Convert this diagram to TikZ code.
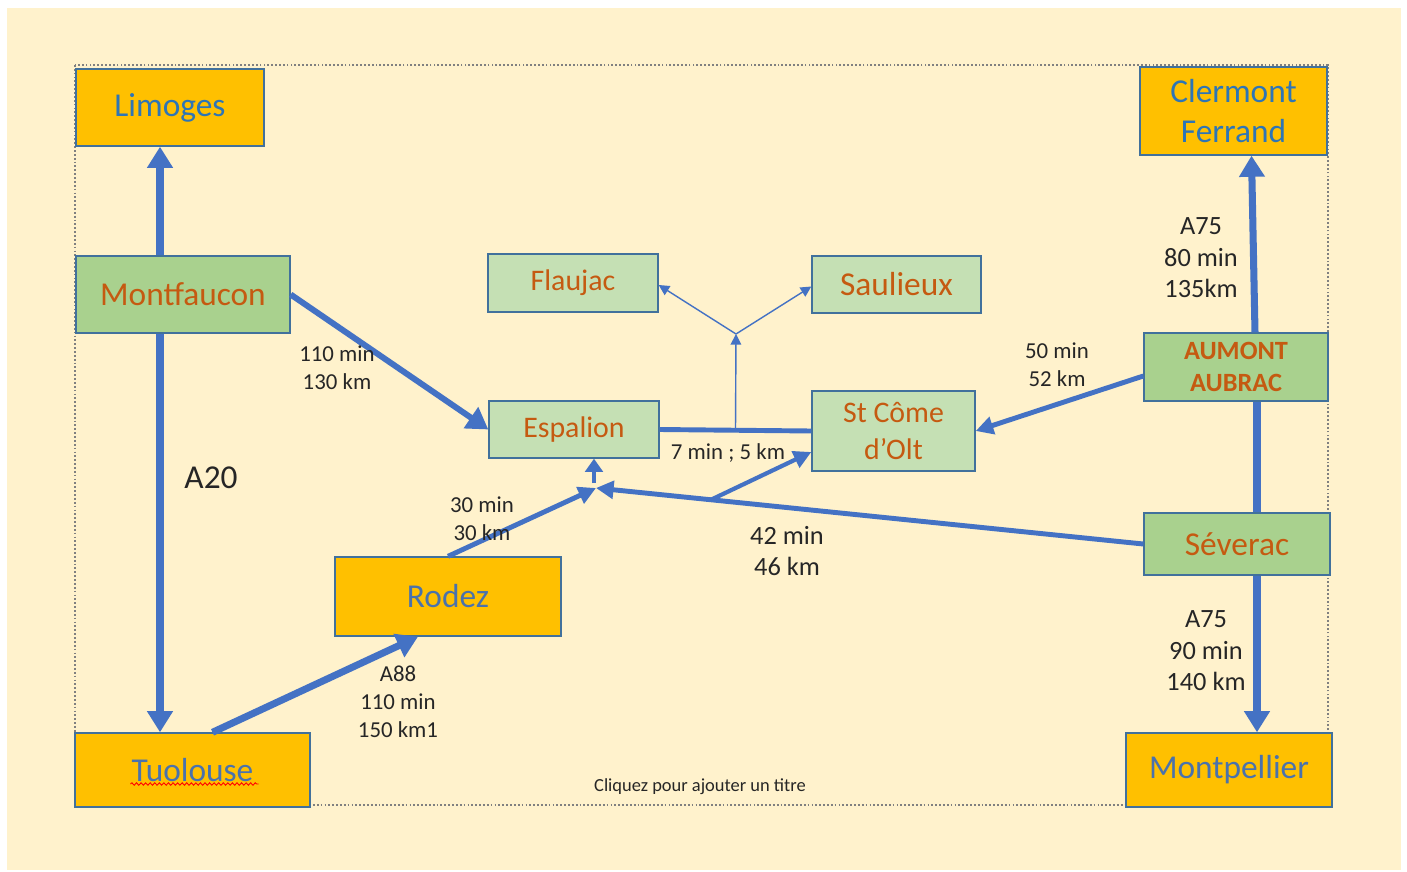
\documentclass[tikz,border=0pt]{standalone}
\usepackage{fontspec}
\setmainfont{Carlito}
\usepackage{tikz}
\usetikzlibrary{arrows.meta,calc,decorations.pathmorphing}
\definecolor{creme}{HTML}{FFF2CC}
\definecolor{jaune}{HTML}{FFC000}
\definecolor{vertf}{HTML}{A9D18E}
\definecolor{vertc}{HTML}{C5E0B4}
\definecolor{bleu}{HTML}{4472C4}
\definecolor{bord}{HTML}{41719C}
\definecolor{brique}{HTML}{C55A11}
\definecolor{encre}{HTML}{2E75B6}
\definecolor{ardoise}{HTML}{4A72AC}
\definecolor{gris}{HTML}{262626}
\newcommand{\grand}{\fontsize{19}{23}\selectfont}
\newcommand{\moyen}{\fontsize{17}{21}\selectfont}
\newcommand{\route}{\fontsize{15}{18}\selectfont}
\newcommand{\petit}{\fontsize{13}{16}\selectfont}

\begin{document}
\begin{tikzpicture}[
    x=0.02cm,y=-0.02cm,
    ville/.style={draw=bord,fill=jaune,line width=0.8pt,inner sep=0pt,align=center,font=\grand},
    bourg/.style={draw=bord,fill=vertc,line width=0.8pt,inner sep=0pt,align=center,text=brique,font=\moyen},
    etape/.style={bourg,fill=vertf},
    legende/.style={align=center,text=gris,inner sep=0pt},
    autoroute/.style={bleu,line width=4pt,-{Triangle[length=12pt,width=14pt]}},
    nationale/.style={bleu,line width=2.8pt,-{Triangle[length=10pt,width=10pt]}},
    chemin/.style={bleu,line width=0.8pt,-{Triangle[length=6pt,width=6pt]}}]

  \useasboundingbox (0,0) rectangle (1407,872);
  \fill[white] (0,0) rectangle (1407,872);
  \fill[creme] (7,8) rectangle (1401,870);
  \draw[gray,line width=0.6pt,dash pattern=on 1pt off 1.2pt] (75,65) rectangle (1328,805);

  \coordinate (LIM) at (170,107.5);
  \coordinate (CF) at (1233.5,111);
  \coordinate (MONT) at (183,294.5);
  \coordinate (FLA) at (573,283);
  \coordinate (SAU) at (896.5,284.5);
  \coordinate (ESP) at (574,429.5);
  \coordinate (STC) at (893.5,431);
  \coordinate (AUM) at (1236,367);
  \coordinate (SEV) at (1237,544);
  \coordinate (ROD) at (448,596.5);
  \coordinate (TUO) at (192.5,770);
  \coordinate (MTP) at (1229,770);
  \coordinate (JCT) at (596,488);
  \coordinate (FORK) at (736,334);

  % villes
  \node[
    ville,
    minimum width=3.76cm,
    minimum height=1.54cm,
    text=encre] at (LIM) (lim) {Limoges};
  \node[
    ville,
    minimum width=3.74cm,
    minimum height=1.76cm,
    text=encre] at (CF) (cf) {Clermont\\Ferrand};
  \node[
    ville,
    minimum width=4.52cm,
    minimum height=1.58cm,
    text=ardoise] at (ROD) (rod) {Rodez};
  \node[
    ville,
    minimum width=4.70cm,
    minimum height=1.48cm,
    text=ardoise] at (TUO) (tuo) {Tuolouse};
  \node[
    ville,
    minimum width=4.12cm,
    minimum height=1.48cm,
    text=ardoise] at (MTP) (mtp) {Montpellier};

  % bourgs
  \node[
    etape,
    font=\grand,
    minimum width=4.28cm,
    minimum height=1.54cm] at (MONT) (mont) {Montfaucon};
  \node[
    etape,
    font=\route\bfseries,
    minimum width=3.68cm,
    minimum height=1.36cm] at (AUM) (aum) {AUMONT\\AUBRAC};
  \node[
    etape,
    font=\grand,
    minimum width=3.72cm,
    minimum height=1.24cm] at (SEV) (sev) {Séverac};
  \node[
    bourg,
    minimum width=3.40cm,
    minimum height=1.16cm] at (FLA) (fla) {Flaujac};
  \node[
    bourg,
    font=\grand,
    minimum width=3.38cm,
    minimum height=1.14cm] at (SAU) (sau) {Saulieux};
  \node[
    bourg,
    minimum width=3.40cm,
    minimum height=1.14cm] at (ESP) (esp) {Espalion};
  \node[
    bourg,
    minimum width=3.26cm,
    minimum height=1.60cm] at (STC) (stc) {St Côme\\d’Olt};

  \draw[red,line width=0.5pt,decorate,decoration={snake,amplitude=0.7pt,segment length=2.6pt}]
    ($(tuo.center)+(-62,14)$) -- ($(tuo.center)+(66,14)$);

  % routes
  \draw[autoroute] ($(mont.north)+(-23,0)$) -- ($(lim.south)+(-10,0)$);
  \draw[autoroute] ($(mont.south)+(-23,0)$) -- ($(tuo.north)+(-32.5,0)$);
  \draw[autoroute,line width=3.4pt] (mont.east) -- (esp.west);
  \draw[autoroute] ($(tuo.north)+(20,0)$) -- ($(rod.south)+(-30,0)$);
  \draw[nationale] (rod.north) -- (JCT);
  \draw[bleu,line width=2.6pt,-{Triangle[length=7.5pt,width=10pt]}] ($(JCT)+(-2,-5)$) -- ($(esp.south)+(20,0)$);
  \draw[nationale] (sev.west) -- (JCT);
  \coordinate (BRK) at ($(JCT)!0.21!(sev.west)$);
  \draw[nationale,line width=2.4pt] (BRK) -- ($(stc.west)+(0,21)$);
  \draw[bleu,line width=2.8pt] (esp.east) -- (stc.west);
  \coordinate (MID) at ($(esp.east)!0.5!(stc.west)$);
  \draw[chemin] (MID) -- (FORK);
  \draw[chemin] (FORK) -- ($(fla.east)+(0,2)$);
  \draw[chemin] (FORK) -- ($(sau.west)+(0,2)$);
  \draw[nationale] ($(aum.west)+(0,9)$) -- (stc.east);
  \draw[autoroute] ($(aum.north)+(19,0)$) -- ($(cf.south)+(18,0)$);
  \draw[bleu,line width=4pt] ($(sev.north)+(20,0)$) -- ($(aum.south)+(21,0)$);
  \draw[autoroute] ($(sev.south)+(20,0)$) -- ($(mtp.north)+(28,0)$);

  % legendes
  \node[legende,font=\petit] at (337,368) (l1) {110 min\\130 km};
  \node[legende,font=\petit] at (482,519) (l2) {30 min\\30 km};
  \node[legende,font=\petit] at (398,702) (l3) {A88\\110 min\\150 km1};
  \node[legende,font=\grand] at (211,478) (l4) {A20};
  \node[legende,font=\petit] at (728,453) (l5) {7 min ; 5 km};
  \node[legende,font=\route] at (787,551) (l6) {42 min\\46 km};
  \node[legende,font=\petit] at (1057,365) (l7) {50 min\\52 km};
  \node[legende,font=\route] at (1201,258) (l8) {A75\\80 min\\135km};
  \node[legende,font=\route] at (1206,651) (l9) {A75\\90 min\\140 km};
  \node[legende,font=\fontsize{10.5}{12}\selectfont] at (700,787) (titre) {Cliquez pour ajouter un titre};

\end{tikzpicture}
\end{document}
